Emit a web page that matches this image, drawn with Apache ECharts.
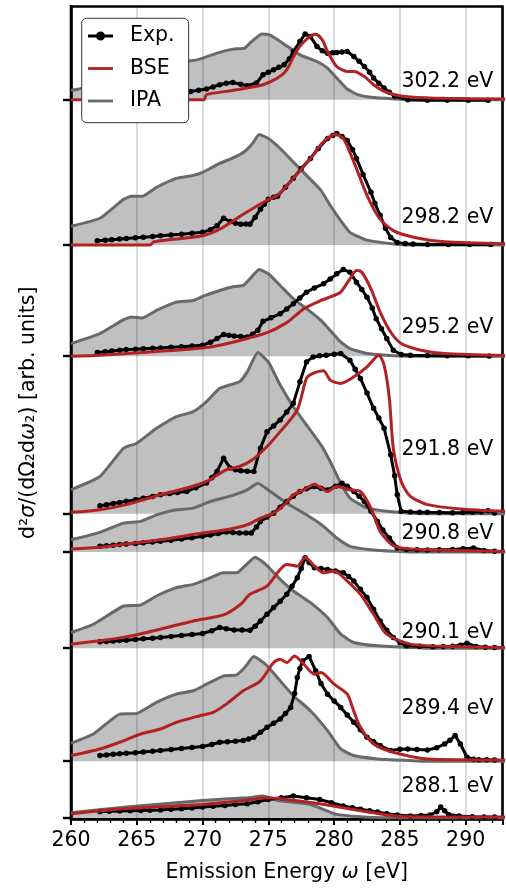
<!DOCTYPE html>
<html>
<head>
<meta charset="utf-8">
<script src="https://cdn.jsdelivr.net/npm/echarts@6/dist/echarts.min.js"></script>
<style>
html,body{margin:0;padding:0;background:#fff;}
#chart{width:506px;height:888px;}
</style>
</head>
<body>
<div id="chart"></div>
<script>
// ---- data ----
const panelLabels = ['302.2 eV','298.2 eV','295.2 eV','291.8 eV','290.8 eV','290.1 eV','289.4 eV','288.1 eV'];
const offsets = [722, 576, 464.5, 306.5, 268, 171.5, 58, 1.3];
const xTicks = [260, 265, 270, 275, 280, 285, 290];

const ipa302 = [[260,9.3],[260.6,10.7],[262.2,15.5],[264,26],[264.6,28],[265.4,28],[266.5,33],[268,38],[269.1,39],[269.8,40.7],[271.1,46.7],[272.3,50.7],[273.2,51.7],[273.7,58],[274.5,66],[275.1,65],[276.1,56.7],[277.4,45],[278.7,38.3],[279.5,31.7],[280.2,21.7],[281,10.7],[281.8,5],[282.8,2.3],[284.6,0.7],[286,0],[293,0]];
const bse302 = [[260,0],[270.1,0],[270.3,5],[271.8,8.3],[273.4,11.7],[274.6,15],[275.7,21.7],[276.4,30],[277.2,50],[278,61.7],[278.6,65.7],[279.1,60],[279.5,48.3],[280.2,33.3],[281,28.3],[281.5,28.3],[282.3,23.3],[283,15],[283.8,8.3],[284.6,5],[285.8,2.7],[288.4,1.3],[293,0.7]];
const exp302 = [[262.2,2.5],[264.2,4],[266.8,5.5],[268.5,7.5],[269.1,8.3],[269.7,9.5],[270.3,10.7],[270.8,12.8],[271.3,15],[271.8,16.5],[272.3,17.3],[272.9,15.5],[273.4,14],[274.1,16.7],[274.6,25],[275,27.5],[275.4,30],[275.8,32.5],[276.2,35],[276.6,41],[276.9,48.3],[277.4,58.3],[277.8,66],[278.2,63.3],[278.7,53.3],[279.1,49],[279.5,46.7],[279.9,47],[280.2,47.3],[280.6,47.8],[281,48.3],[281.5,43.3],[281.9,38.5],[282.3,33.3],[282.7,27.5],[283,21.7],[283.4,16.5],[283.8,11.7],[284.2,7.5],[284.6,3.3],[285.6,0],[287.1,-0.7],[288.6,-0.5],[290.2,-0.7],[291.7,-0.7]];

const ipa298 = [[260,19],[262.2,27],[264,46],[264.6,49],[265.4,49],[266.5,58],[268,67],[269.3,70],[270,73],[271.3,82],[272.4,88],[273.2,94],[273.8,102],[274.3,111],[275,107],[275.9,97],[276.9,83.5],[277.9,70],[279,55],[279.7,40],[280.5,24.6],[281.2,12.8],[282.5,5],[284,2],[285.6,0],[293,0]];
const bse298 = [[260,0],[266,0],[266.3,3.4],[270,9.4],[271.3,16],[273.1,31],[274.9,45],[275.7,50],[276.9,67],[278.2,87],[279.2,104],[280.1,111],[280.7,107],[281.5,83.5],[282.5,50],[283.5,26],[284.5,14.5],[286.1,7.7],[288.4,3.4],[293,1.3]];
const exp298 = [[262,4.4],[262.6,5],[263.1,5.5],[263.7,6.1],[264.2,6.7],[264.9,7.4],[265.5,8],[266.2,8.7],[266.8,9.4],[267.6,10.2],[268.4,11],[269.2,11.9],[270,12.8],[270.6,15.5],[271.1,19.5],[271.6,27],[272.1,23.6],[272.5,22],[272.9,21],[273.3,21.2],[273.6,21],[274,28],[274.4,36],[274.7,41],[275,46],[275.4,48],[275.7,49],[276.3,58],[276.9,67],[277.5,77],[278.2,87],[278.8,97],[279.5,107],[279.9,110],[280.2,112],[280.6,109],[281,105],[281.4,96],[281.7,87],[282.2,71],[282.8,53],[283.1,42],[283.5,30],[283.9,17],[284.3,7.7],[284.8,2.7],[285.4,1.5],[286,1],[287.1,0.7],[288.7,0.5],[290.3,0.5],[291.9,0.5]];

const ipa295 = [[260,12.7],[262.2,22.7],[264,36.7],[264.6,39.3],[265.4,38.3],[266.5,46],[268,54.3],[269.3,56],[270,60],[271.3,66],[272.4,70],[273.1,71],[273.6,77.7],[274.3,87],[275,82.7],[275.9,71],[276.9,57.7],[277.9,47.7],[279,36],[279.7,26],[280.5,14.3],[281.2,7.7],[282.5,2.7],[284,1],[285.6,0],[293,0]];
const bse295 = [[260,0],[262.2,1],[264.2,2.7],[266.8,5],[270,8.3],[271.3,11],[272.9,16],[274.9,23.7],[276.4,33.7],[277.7,47.7],[279,56],[280,61],[280.5,64.3],[281.2,77.7],[281.7,86],[282.1,84.3],[282.8,67.7],[283.5,44.3],[284.3,24.3],[285.1,12.7],[286.6,6],[288.4,2.7],[293,0.7]];
const exp295 = [[262,3.7],[262.6,4.5],[263.1,5.2],[263.7,6],[264.2,6.7],[264.9,7.1],[265.5,7.5],[266.2,7.9],[266.8,8.3],[267.6,9],[268.4,9.6],[269.2,10.3],[270,11],[270.6,14],[271.1,17.7],[271.6,21.7],[272,21],[272.4,20.3],[272.9,19.8],[273.4,19.3],[273.8,22],[274.2,26],[274.6,35],[275.2,38.5],[275.9,42.7],[276.4,47.5],[276.9,52.7],[277.4,58.5],[277.9,64.3],[278.5,68.5],[279.2,72.7],[279.7,77.5],[280.2,82.7],[280.7,87],[281.2,84.3],[281.7,74.3],[282.1,67],[282.5,59.3],[282.9,48.5],[283.2,37.7],[283.6,27.5],[284,17.7],[284.5,6],[285.1,1.7],[285.8,1],[287.1,0.7],[288.6,0.5],[290.2,0.5],[291.8,0.3]];

const ipa291 = [[260,24],[262.2,37.3],[264,65.7],[265,70.7],[266.5,85.7],[268,97.3],[269.3,102.3],[270.3,112.3],[271.3,125.7],[272.8,132.3],[273.4,142.3],[274.2,161.7],[275,152.3],[275.9,129],[276.9,107.3],[277.9,89],[279,69],[279.7,52.3],[280.5,30.7],[281.2,15.7],[282.5,5.7],[284,2.3],[285.6,0.7],[287,0],[293,0]];
const bse291 = [[260,1.3],[262.2,4],[264.2,9],[266.8,19],[268.8,25.7],[270.3,32.3],[271.8,44],[272.8,47.3],[273.8,54],[274.9,67.3],[275.9,82.3],[277.2,104],[277.9,135.7],[278.4,140.7],[279.2,143.3],[279.7,134],[280.5,130.7],[281.5,137.3],[282.5,147.3],[283.4,159],[283.8,149],[284.2,115.7],[284.5,65.7],[285.1,32.3],[285.8,17.3],[287.1,9],[289.6,4.7],[293,2.3]];
const exp291 = [[262.2,8],[262.7,9],[263.2,10.1],[263.7,11.2],[264.2,12.3],[264.9,13.9],[265.5,15.5],[266.2,17.3],[266.8,19],[267.5,20.1],[268.1,21.2],[268.8,22.3],[269.5,26],[270.3,30.7],[270.7,36],[271.1,42.3],[271.6,55.7],[272.1,45.7],[272.5,44],[272.9,43],[273.4,42.5],[273.9,42.3],[274.4,65.7],[274.9,82.3],[275.4,88],[275.9,94],[276.4,102],[276.9,110.7],[277.4,132.3],[277.9,152.3],[278.4,157.3],[278.9,158.5],[279.4,159],[280,160],[280.5,160.7],[281.2,154],[281.6,145],[282,135.7],[282.5,121],[283,105.7],[283.4,96],[283.8,85.7],[284.3,59],[284.6,38],[284.8,19],[285.1,2.3],[285.8,1.7],[286.5,1.5],[287.1,1.3],[288,1.2],[289,1],[289.8,1.2],[290.5,1.5],[291.2,2],[291.7,3],[292.2,0.7]];

const ipa2908 = [[260,12.3],[262,19],[264,29],[265.3,30.7],[266.5,37.3],[268,42.3],[269.3,44],[270.6,50.7],[272.4,57.3],[273.4,62.3],[274.2,69],[275,62.3],[276.4,49],[277.9,37.3],[279.2,25.7],[280.2,14],[281.2,5.7],[282.8,2.3],[284.6,0.7],[286,0],[293,0]];
const bse2908 = [[260,3],[262.2,4.7],[264.2,8],[266.8,12.3],[270,19],[271.8,22.3],[273.4,27.3],[274.4,34],[275.4,39],[276.2,47.3],[276.9,57.3],[277.7,62.3],[278.5,68],[279.5,60.7],[280.2,65.7],[281.2,62.3],[282,60.7],[282.8,44],[283.5,20.7],[284.6,5.7],[287.1,2.3],[293,0.7]];
const exp2908 = [[262.2,5.7],[262.7,6.3],[263.2,6.8],[263.7,7.4],[264.2,8],[264.9,8.6],[265.5,9.3],[266.2,10],[266.8,10.7],[267.6,11.8],[268.4,13],[269.2,14.3],[270,15.7],[270.6,17.1],[271.2,18.5],[271.8,20],[272.3,19.5],[272.8,19],[273.3,19],[273.7,19],[274.1,25],[274.4,30.7],[274.9,35],[275.4,39],[275.9,45],[276.4,50.7],[276.9,56],[277.4,60.7],[277.9,63.5],[278.5,65.7],[279,64],[279.5,62.3],[280.1,66],[280.6,69],[281,66],[281.5,60.7],[281.9,56],[282.3,50.7],[282.8,41],[283.3,30.7],[283.7,22],[284.2,14],[284.8,4],[285.5,2.5],[286.3,2.2],[287.1,2],[288,2.2],[289,2.5],[289.8,3.2],[290.6,4],[291.4,1.5],[292.2,0.7]];

const ipa2901 = [[260,15.7],[261.7,24],[264,42.3],[265.3,43.3],[266.5,52.3],[268,60.7],[269.3,64],[270.3,69],[271.6,75.7],[272.6,75.7],[273.2,82.3],[274,91.3],[274.8,84],[275.9,69],[276.9,57.3],[278.2,45.7],[279.5,30.7],[280.5,14],[281.5,5.7],[283.3,2.3],[285.8,0.7],[287,0],[293,0]];
const bse2901 = [[260,4],[262.2,7.3],[264.2,11.3],[266.8,19],[269.3,27.3],[271.6,33.3],[272.9,44],[273.6,54],[274.9,62.3],[275.9,79],[276.4,84],[277.2,82.3],[277.8,91.3],[278.5,82.3],[279.2,75.7],[280,77.3],[281,67.3],[282,54],[283,34],[284,14],[285.8,4],[289.6,1.3],[293,0.7]];
const exp2901 = [[262.2,6.3],[262.7,6.7],[263.2,7.1],[263.7,7.6],[264.2,8],[264.9,8.6],[265.5,9.3],[266.2,10],[266.8,10.7],[267.6,11.7],[268.4,12.7],[269.2,13.7],[270,14.7],[270.7,17.5],[271.3,20.7],[271.8,19.5],[272.4,18.3],[273,18.1],[273.6,18],[274,22],[274.4,27.3],[274.9,34],[275.4,40.7],[275.9,47],[276.4,54],[276.8,62],[277.2,70.7],[277.5,80],[277.8,90.7],[278.1,86],[278.5,80.7],[279,79.8],[279.5,79],[280.1,77.5],[280.7,75.7],[281.1,72],[281.5,67.3],[282,59],[282.5,50.7],[283,39],[283.5,27.3],[284,18],[284.5,10.7],[285,5.5],[285.5,2.3],[286.5,1.8],[287.5,1.5],[288.3,1.7],[289,2],[289.6,3],[290.1,5],[290.8,1.7],[291.5,1],[292.2,0.7]];

const ipa289 = [[260,18],[261.7,27.3],[263.7,47.3],[265,48],[266.5,59],[268,67.3],[269.3,70.7],[270.3,77.3],[271.6,85.7],[272.6,86.7],[273.2,94],[273.9,105],[274.8,97.3],[275.9,80.7],[276.9,65.7],[278.2,50.7],[279.5,30.7],[280.5,12.3],[281.5,5.7],[283.3,2.3],[285.8,0.7],[287,0],[293,0]];
const bse289 = [[260,5.7],[262.2,12.3],[263.7,19],[265.3,27.3],[266.8,32.3],[268,39],[269.8,45.7],[270.8,49],[271.8,57.3],[273.1,70.7],[274.4,80.7],[275.4,99],[275.9,102.3],[276.4,99],[277,105.7],[277.7,97.3],[278.5,87.3],[279,89],[280,77.3],[281,67.3],[281.5,50],[282,34],[283,17.3],[284.5,9],[287.1,2.3],[293,1.3]];
const exp289 = [[262.2,5.7],[262.7,6.3],[263.2,6.9],[263.7,7.4],[264.2,8],[264.9,8.6],[265.5,9.3],[266.2,10],[266.8,10.7],[267.6,11.7],[268.4,12.7],[269.2,13.7],[270,14.7],[270.7,16.8],[271.3,19],[271.9,19.5],[272.5,20],[273.1,20.7],[273.5,22.3],[273.9,24],[274.4,29],[274.9,34],[275.4,38],[275.9,42.3],[276.3,48],[276.7,54],[277,68],[277.2,84],[277.4,93],[277.6,100.7],[278.1,105],[278.6,90.7],[279,78],[279.5,67.3],[280,60.5],[280.5,54],[281,46.5],[281.5,39],[282,31.5],[282.5,24],[283,19.5],[283.5,15.7],[284.3,10.7],[285,12],[285.6,12.3],[286.3,11.8],[287.1,11.3],[287.8,13.5],[288.4,17.3],[288.8,21],[289.2,25.7],[289.6,17.3],[290.1,4],[290.6,2],[291,1.5],[291.6,1.4],[292.2,1.3]];

const ipa288 = [[260,5],[264.2,10.7],[270,17.3],[273.4,20],[274.6,21.7],[275.7,17.3],[278.2,13.3],[280.2,3.3],[282,1],[284,0],[293,0]];
const bse288 = [[260,4],[264.2,9.3],[270,13.3],[273.4,17.7],[275,20],[276.4,18.3],[278.9,14],[280.7,10],[283.3,4.3],[285.1,1.3],[293,0.7]];
const exp288 = [[262.2,6],[262.9,6.4],[263.7,6.7],[264.5,7],[265.3,7.2],[266,7.5],[266.8,7.7],[267.6,8.4],[268.4,9],[269.2,9.8],[270,10.7],[270.8,11.5],[271.7,12.3],[272.5,13.2],[273.4,14],[274.2,16],[275,18.3],[276,20],[276.9,21.7],[277.9,20],[278.9,18.3],[279.8,15],[280.7,11.7],[281.4,10],[282,8.5],[282.7,7],[283.3,5.7],[284,4],[284.8,2.8],[285.8,1.7],[286.6,2.2],[287.3,2.7],[287.8,6],[288.1,10.7],[288.4,7],[288.7,3.3],[289.5,1.8],[290.5,1],[291.4,0.8],[292.2,0.7]];

const ipaSets = [ipa302, ipa298, ipa295, ipa291, ipa2908, ipa2901, ipa289, ipa288];
const bseSets = [bse302, bse298, bse295, bse291, bse2908, bse2901, bse289, bse288];
const expSets = [exp302, exp298, exp295, exp291, exp2908, exp2901, exp289, exp288];

// ---- layout / style ----
const FONT = 'DejaVu Sans';
const FS = 20.5;
const labelX = 292.1;
const labelLift = [18, 28, 29, 64.5, 18, 15.5, 53, 31];
const C_EXP = '#000000', C_BSE = '#b22222', C_IPA = '#696969', C_FILL = '#c0c0c0';

const shift = (arr, off) => arr.map(p => [p[0], p[1] + off]);

const series = [];
for (let i = 0; i < offsets.length; i++) {
  const off = offsets[i];
  series.push({
    name: 'IPA fill', type: 'line', z: 1, silent: true, symbol: 'none',
    data: shift(ipaSets[i], off), smooth: 0.15,
    lineStyle: { width: 0, color: C_FILL },
    areaStyle: { color: C_FILL, opacity: 1, origin: off }
  });
}
for (let i = 0; i < offsets.length; i++) {
  const off = offsets[i];
  series.push({
    name: 'IPA', type: 'line', z: 3, symbol: 'none', smooth: 0.15,
    data: shift(ipaSets[i], off),
    lineStyle: { width: 3, color: C_IPA }, itemStyle: { color: C_IPA }
  });
  series.push({
    name: 'Exp.', type: 'line', z: 4, symbol: 'circle', symbolSize: 5.5, showSymbol: true,
    data: shift(expSets[i], off),
    lineStyle: { width: 3, color: C_EXP }, itemStyle: { color: C_EXP }
  });
  series.push({
    name: 'BSE', type: 'line', z: 5, symbol: 'none', smooth: 0.25,
    data: shift(bseSets[i], off),
    lineStyle: { width: 3, color: C_BSE }, itemStyle: { color: C_BSE }
  });
}

const iconLine = 'path://M0,0 M25,12 M0,4.6 L25,4.6 L25,7.4 L0,7.4 Z';
const iconLineDot = 'path://M0,0 M25,12 M0,4.6 L8.3,4.6 L8.3,7.4 L0,7.4 Z M16.7,4.6 L25,4.6 L25,7.4 L16.7,7.4 Z M8,6 A4.5,4.5 0 1,1 17,6 A4.5,4.5 0 1,1 8,6 Z';

const chart = echarts.init(document.getElementById('chart'), null, { renderer: 'canvas' });
chart.setOption({
  animation: false,
  backgroundColor: '#ffffff',
  textStyle: { fontFamily: FONT },
  grid: { left: 71, right: 3.5, top: 6.5, bottom: 66, show: true,
          borderColor: '#000', borderWidth: 2.6, backgroundColor: 'transparent' },
  legend: {
    data: [{ name: 'Exp.', icon: iconLineDot }, { name: 'BSE', icon: iconLine }, { name: 'IPA', icon: iconLine }],
    orient: 'vertical', left: 81.7, top: 18.3,
    itemWidth: 25, itemHeight: 12, itemGap: 10.5,
    padding: [6.7, 14, 10.7, 6.3],
    backgroundColor: '#ffffff', borderColor: '#333', borderWidth: 1, borderRadius: 5,
    textStyle: { fontFamily: FONT, fontSize: FS, color: '#000', lineHeight: 22, padding: [0, 0, 0, 12] },
    z: 10
  },
  xAxis: {
    type: 'value', min: 260, max: 292.8, interval: 5, z: 2,
    name: 'Emission Energy {i|ω} [eV]', nameLocation: 'middle', nameGap: 43,
    nameTextStyle: { fontFamily: FONT, fontSize: FS, color: '#000',
                     rich: { i: { fontFamily: FONT, fontSize: FS, fontStyle: 'italic', color: '#000' } } },
    axisLine: { show: true, lineStyle: { color: '#000', width: 2.6 } },
    axisTick: { show: true, inside: false, length: 6, lineStyle: { color: '#000', width: 2 } },
    minorTick: { show: true, splitNumber: 5, length: 4, lineStyle: { color: '#000', width: 1.4 } },
    axisLabel: { show: true, color: '#000', fontFamily: FONT, fontSize: FS, margin: 11,
                 customValues: xTicks },
    splitLine: { show: true, lineStyle: { color: 'rgba(0,0,0,0.16)', width: 1.8 } }
  },
  yAxis: {
    type: 'value', min: 0, max: 815.5, z: 2,
    name: 'd²{i|σ}/(dΩ₂d{i|ω}₂) [arb. units]', nameLocation: 'middle', nameRotate: 90, nameGap: 32,
    nameTextStyle: { fontFamily: FONT, fontSize: FS, color: '#000',
                     rich: { i: { fontFamily: FONT, fontSize: FS, fontStyle: 'italic', color: '#000' } } },
    axisLine: { show: true, lineStyle: { color: '#000', width: 2.6 } },
    axisTick: { show: true, inside: false, length: 8, customValues: offsets, lineStyle: { color: '#000', width: 2.4 } },
    axisLabel: { show: false },
    splitLine: { show: false }
  },
  series: series
});

// panel annotations placed through the chart's coordinate system
const graphics = panelLabels.map((t, i) => {
  const p = chart.convertToPixel({ gridIndex: 0 }, [labelX, offsets[i] + labelLift[i]]);
  return { type: 'text', x: p[0], y: p[1], z: 100, silent: true,
           style: { text: t, fill: '#000', font: FS + 'px "' + FONT + '"', align: 'right', verticalAlign: 'middle' } };
});
chart.setOption({ graphic: graphics });
</script>
</body>
</html>
